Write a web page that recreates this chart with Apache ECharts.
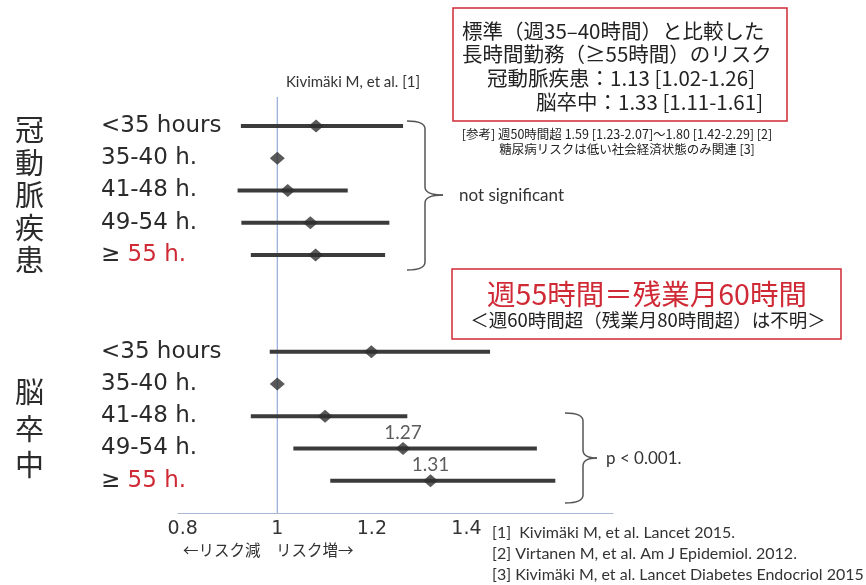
<!DOCTYPE html>
<html>
<head>
<meta charset="utf-8">
<script src="https://cdn.jsdelivr.net/npm/echarts@6/dist/echarts.min.js"></script>
<style>
html,body{margin:0;padding:0;background:#fff;}
#chart{width:866px;height:585px;}
</style>
</head>
<body>
<div id="chart"></div>
<script>
// ---- data ----
const rowLabels = ['<35 hours', '35-40 h.', '41-48 h.', '49-54 h.', '≥ 55 h.'];
const groupNames = ['冠動脈疾患', '脳卒中'];
const chdPoint = [1.082, 1.0, 1.022, 1.070, 1.081];
const chdLow   = [0.923, null, 0.916, 0.924, 0.944];
const chdHigh  = [1.266, null, 1.149, 1.237, 1.228];
const strokePoint = [1.199, 1.0, 1.101, 1.266, 1.324];
const strokeLow   = [0.984, null, 0.944, 1.034, 1.112];
const strokeHigh  = [1.450, null, 1.275, 1.549, 1.588];
const strokePointLabels = ['', '', '', '1.27', '1.31'];
const referenceValue = 1;
const xTickValues = [0.8, 1, 1.2, 1.4];
const xTickLabels = ['0.8', '1', '1.2', '1.4'];
const references = [
  '[1]  Kivimäki M, et al. Lancet 2015.',
  '[2] Virtanen M, et al. Am J Epidemiol. 2012.',
  '[3] Kivimäki M, et al. Lancet Diabetes Endocriol 2015'
];

// ---- build ----
const GROUP_OFFSET = 7;
const groups = [
  {point: chdPoint, low: chdLow, high: chdHigh, labels: ['', '', '', '', '']},
  {point: strokePoint, low: strokeLow, high: strokeHigh, labels: strokePointLabels}
];
const barData = [], pointData = [], yLabelMap = {};
groups.forEach((g, gi) => {
  rowLabels.forEach((lab, i) => {
    const y = gi * GROUP_OFFSET + i;
    yLabelMap[y] = i;
    if (g.low[i] != null) barData.push([g.low[i], g.high[i], y]);
    pointData.push({value: [g.point[i], y], label: {show: !!g.labels[i], formatter: g.labels[i]}});
  });
});
const yTickValues = Object.keys(yLabelMap).map(Number);
const Y_MIN = -0.9, Y_MAX = 12;

const CJK = '"Noto Sans CJK JP", sans-serif';
const LAT = 'Lato, "Open Sans", sans-serif';
const txtColor = '#2b2b2b';
const red = '#cf2a35';
const refLineColor = '#93abd8';

function brace(xHook, xV, xTip, yTop, yMid, yBot) {
  const st = {fill: 'none', stroke: '#555', lineWidth: 1.5};
  const r = 8;
  return [
    {type: 'bezierCurve', shape: {x1: xHook, y1: yTop, cpx1: xV, cpy1: yTop, x2: xV, y2: yTop + r}, style: st},
    {type: 'line', shape: {x1: xV, y1: yTop + r, x2: xV, y2: yMid - r}, style: st},
    {type: 'bezierCurve', shape: {x1: xV, y1: yMid - r, cpx1: xV, cpy1: yMid, x2: xTip, y2: yMid}, style: st},
    {type: 'bezierCurve', shape: {x1: xTip, y1: yMid, cpx1: xV, cpy1: yMid, x2: xV, y2: yMid + r}, style: st},
    {type: 'line', shape: {x1: xV, y1: yMid + r, x2: xV, y2: yBot - r}, style: st},
    {type: 'bezierCurve', shape: {x1: xV, y1: yBot - r, cpx1: xV, cpy1: yBot, x2: xHook, y2: yBot}, style: st}
  ];
}

const chart = echarts.init(document.getElementById('chart'), null, {renderer: 'canvas'});
chart.setOption({
  backgroundColor: '#ffffff',
  animation: false,
  grid: {left: 178, right: 253, top: 97, bottom: 72, containLabel: false},
  xAxis: {
    type: 'value', min: 0.79, max: 1.71,
    axisLine: {show: true, onZero: false, lineStyle: {color: '#a9b7d3', width: 1.2}},
    axisTick: {show: false},
    splitLine: {show: false},
    axisLabel: {
      customValues: xTickValues,
      formatter: v => xTickLabels[xTickValues.findIndex(t => Math.abs(t - v) < 1e-6)] || '',
      fontFamily: '"DejaVu Sans", sans-serif', fontSize: 19, color: '#333', margin: 7
    }
  },
  yAxis: {
    type: 'value', inverse: true, min: Y_MIN, max: Y_MAX,
    axisLine: {show: false, onZero: false}, axisTick: {show: false}, splitLine: {show: false},
    axisLabel: {
      customValues: yTickValues,
      align: 'left', margin: 77,
      fontFamily: '"DejaVu Sans", sans-serif', fontSize: 23, color: txtColor,
      formatter: v => {
        const i = yLabelMap[Math.round(v)];
        const s = rowLabels[i];
        if (s && s.indexOf('≥') === 0) return '{g|≥} {r|' + s.slice(2) + '}';
        return s || '';
      },
      rich: {
        g: {fontFamily: '"DejaVu Sans", sans-serif', fontSize: 23, color: txtColor},
        r: {fontFamily: '"DejaVu Sans", sans-serif', fontSize: 23, color: red}
      }
    }
  },
  series: [
    {
      // reference line at RR = 1
      type: 'custom',
      data: [[referenceValue]],
      encode: {x: 0},
      renderItem: (params, api) => {
        const p1 = api.coord([api.value(0), Y_MIN]);
        const p2 = api.coord([api.value(0), Y_MAX]);
        return {type: 'line', shape: {x1: p1[0], y1: p1[1], x2: p2[0], y2: p2[1]},
                style: {stroke: refLineColor, lineWidth: 1.2}};
      },
      z: 1
    },
    {
      type: 'custom',
      data: barData,
      encode: {x: [0, 1], y: 2},
      renderItem: (params, api) => {
        const p1 = api.coord([api.value(0), api.value(2)]);
        const p2 = api.coord([api.value(1), api.value(2)]);
        return {type: 'line', shape: {x1: p1[0], y1: p1[1], x2: p2[0], y2: p2[1]},
                style: {stroke: '#3b3b3b', lineWidth: 4}};
      },
      z: 2
    },
    {
      type: 'scatter',
      data: pointData,
      symbol: 'diamond', symbolSize: [15, 13],
      itemStyle: {color: '#2f2f2f'},
      label: {position: 'top', distance: 0, fontFamily: LAT, fontSize: 19, color: '#333'},
      z: 3
    }
  ],
  graphic: [
    // left vertical group names
    {type: 'text', x: 15, y: 114, style: {text: groupNames[0].split('').join('\n'), font: '29px ' + CJK, fill: txtColor, lineHeight: 32.5}},
    {type: 'text', x: 15, y: 374, style: {text: groupNames[1].split('').join('\n'), font: '29px ' + CJK, fill: txtColor, lineHeight: 36.5}},
    // title
    {type: 'text', x: 353, y: 82, style: {text: 'Kivimäki M, et al. [1]', font: '15px ' + LAT, fill: '#333', align: 'center', verticalAlign: 'middle'}},
    // red box 1
    {type: 'rect', shape: {x: 453, y: 8, width: 334, height: 113}, style: {fill: 'none', stroke: red, lineWidth: 1.5}},
    {type: 'text', x: 462, y: 31, style: {text: '標準（週35–40時間）と比較した', font: '20.5px ' + CJK, fill: '#222', verticalAlign: 'middle'}},
    {type: 'text', x: 462, y: 54, style: {text: '長時間勤務（≥55時間）のリスク', font: '20.5px ' + CJK, fill: '#222', verticalAlign: 'middle'}},
    {type: 'text', x: 487, y: 78, style: {text: '冠動脈疾患：1.13 [1.02-1.26]', font: '20.5px ' + CJK, fill: '#222', verticalAlign: 'middle'}},
    {type: 'text', x: 536, y: 102, style: {text: '脳卒中：1.33 [1.11-1.61]', font: '20.5px ' + CJK, fill: '#222', verticalAlign: 'middle'}},
    {type: 'text', x: 617, y: 134, style: {text: '[参考] 週50時間超 1.59 [1.23-2.07]～1.80 [1.42-2.29] [2]', font: '12.5px ' + CJK, fill: '#222', align: 'center', verticalAlign: 'middle'}},
    {type: 'text', x: 627, y: 149, style: {text: '糖尿病リスクは低い社会経済状態のみ関連 [3]', font: '12.5px ' + CJK, fill: '#222', align: 'center', verticalAlign: 'middle'}},
    // red box 2
    {type: 'rect', shape: {x: 452, y: 269, width: 389, height: 70}, style: {fill: 'none', stroke: red, lineWidth: 1.5}},
    {type: 'text', x: 647, y: 294, style: {text: '週55時間＝残業月60時間', font: '28.5px ' + CJK, fill: red, align: 'center', verticalAlign: 'middle'}},
    {type: 'text', x: 648, y: 320, style: {text: '＜週60時間超（残業月80時間超）は不明＞', font: '18.5px ' + CJK, fill: '#222', align: 'center', verticalAlign: 'middle'}},
    // brackets
    ...brace(407, 425, 443, 121, 195, 270),
    {type: 'text', x: 459, y: 196, style: {text: 'not significant', font: '17px ' + LAT, fill: '#333', verticalAlign: 'middle'}},
    ...brace(565, 583, 597, 413, 458, 503),
    {type: 'text', x: 606, y: 459, style: {text: 'p < 0.001.', font: '17px ' + LAT, fill: '#333', verticalAlign: 'middle'}},
    // axis note
    {type: 'text', x: 183, y: 550, style: {text: '←リスク減　リスク増→', font: '15.5px ' + CJK, fill: '#333', verticalAlign: 'middle'}},
    // references
    {type: 'text', x: 492, y: 533, style: {text: references[0], font: '16px ' + LAT, fill: '#333', verticalAlign: 'middle'}},
    {type: 'text', x: 492, y: 554, style: {text: references[1], font: '16px ' + LAT, fill: '#333', verticalAlign: 'middle'}},
    {type: 'text', x: 492, y: 575, style: {text: references[2], font: '16px ' + LAT, fill: '#333', verticalAlign: 'middle'}}
  ]
});
</script>
</body>
</html>
